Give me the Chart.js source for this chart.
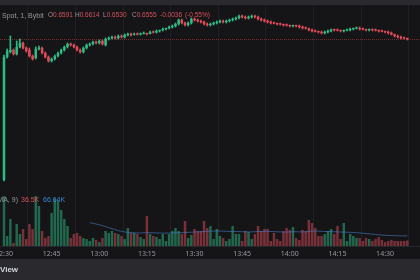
<!DOCTYPE html>
<html>
<head>
<meta charset="UTF-8">
<title>Spot 1m</title>
<script src="https://cdn.jsdelivr.net/npm/chart.js@4.4.1/dist/chart.umd.min.js"></script>
<style>
  html, body { margin: 0; padding: 0; width: 420px; height: 280px; overflow: hidden; background: #151518; font-family: 'Noto Sans', sans-serif; }
  #topbar { position: absolute; left: 0; top: 0; width: 420px; height: 5px; background: #2a2a2e; }
  #wrap { position: absolute; left: 0; top: 5px; width: 420px; height: 254px; }
  #bottombar { position: absolute; left: 0; top: 259px; width: 420px; height: 21px; background: #2a2a2e; }
  .t { position: absolute; font-size: 6.5px; line-height: 1; white-space: nowrap; font-family: 'Liberation Sans', sans-serif; }
  .g { color: #9598a1; }
  .r { color: #d9505c; }
  .b { color: #3d85d8; }
</style>
</head>
<body>
<div id="topbar"></div>
<div id="wrap"><canvas id="chart" width="420" height="254"></canvas></div>
<div id="bottombar"></div>

<!-- legend overlays -->
<div class="t g" style="left:2px;top:12px;font-size:7px">Spot, 1, Bybit</div>
<div class="t" style="left:48px;top:12px"><span class="g">O</span><span class="r">0.6591</span></div>
<div class="t" style="left:75px;top:12px"><span class="g">H</span><span class="r">0.6614</span></div>
<div class="t" style="left:103px;top:12px"><span class="g">L</span><span class="r">0.6530</span></div>
<div class="t" style="left:132px;top:12px"><span class="g">C</span><span class="r">0.6555</span></div>
<div class="t r" style="left:160px;top:12px">-0.0036</div>
<div class="t r" style="left:185px;top:12px">(-0.55%)</div>

<div class="t g" style="right:402px;top:196px;font-size:7px">Volume (MA, 9)</div>
<div class="t r" style="left:21px;top:196px;font-size:7px">36.5K</div>
<div class="t b" style="left:43px;top:196px;font-size:7px">66.64K</div>

<div class="t" style="left:0;top:266px;font-size:8px;font-weight:bold;color:#d1d4dc">View</div>

<script>
// 1 minute candles, 12:30 -> 14:37
const tickLabels = ['12:30', '12:45', '13:00', '13:15', '13:30', '13:45', '14:00', '14:15', '14:30'];

const opens = [
  0.6414, 0.6537, 0.6542, 0.6544, 0.6540, 0.6547, 0.6551, 0.6546, 0.6544, 0.6538,
  0.6536, 0.6545, 0.6546, 0.6541, 0.6537, 0.6533, 0.6535, 0.6538, 0.6541, 0.6544,
  0.6547, 0.6550, 0.6549, 0.6547, 0.6544, 0.6542, 0.6546, 0.6549, 0.6550, 0.6552,
  0.6551, 0.6553, 0.6549, 0.6555, 0.6556, 0.6557, 0.6556, 0.6558, 0.6557, 0.6559,
  0.6560, 0.6559, 0.6560, 0.65595, 0.6560, 0.6561, 0.6560, 0.6562, 0.65615, 0.6563,
  0.6564, 0.6565, 0.6566, 0.6567, 0.6568, 0.6570, 0.6574, 0.6571, 0.6569, 0.6571,
  0.6575, 0.6574, 0.6573, 0.6572, 0.6570, 0.6569, 0.6570, 0.6571, 0.6572, 0.6573,
  0.6572, 0.6573, 0.6574, 0.6575, 0.6576, 0.6578, 0.6577, 0.6576, 0.6577, 0.6578,
  0.6577, 0.6575, 0.6574, 0.6573, 0.6572, 0.6571, 0.65705, 0.6570, 0.65695, 0.6569,
  0.65685, 0.6568, 0.65685, 0.6568, 0.6567, 0.6566, 0.65655, 0.6564, 0.6563, 0.65625,
  0.6562, 0.6561, 0.6562, 0.6563, 0.65645, 0.6564, 0.65635, 0.6563, 0.65635, 0.6564,
  0.6565, 0.65655, 0.6566, 0.6565, 0.65645, 0.6564, 0.65645, 0.6564, 0.65635, 0.6563,
  0.65625, 0.6562, 0.6561, 0.65595, 0.6558, 0.6557, 0.6556, 0.65555
];
const highs = [
  0.6539, 0.6545, 0.6558, 0.6545, 0.6553, 0.6555, 0.6552, 0.6547, 0.6546, 0.6539,
  0.6547, 0.6548, 0.6547, 0.6542, 0.6538, 0.6536, 0.6539, 0.6542, 0.6545, 0.6548,
  0.6551, 0.6551, 0.6550, 0.6548, 0.6545, 0.6547, 0.6550, 0.6551, 0.6553, 0.6553,
  0.6554, 0.6554, 0.6556, 0.6557, 0.6558, 0.6558, 0.6559, 0.6559, 0.6560, 0.6561,
  0.6561, 0.6561, 0.6561, 0.6561, 0.6562, 0.6561, 0.6563, 0.6563, 0.6564, 0.6564,
  0.6566, 0.6566, 0.6568, 0.6569, 0.6571, 0.6575, 0.6575, 0.6572, 0.6572, 0.6576,
  0.6576, 0.6575, 0.6574, 0.6573, 0.6571, 0.6571, 0.6572, 0.6573, 0.6574, 0.6574,
  0.6574, 0.6575, 0.6576, 0.6577, 0.6579, 0.6579, 0.6578, 0.6578, 0.6579, 0.6579,
  0.6578, 0.6576, 0.6575, 0.6574, 0.6573, 0.6572, 0.6571, 0.6571, 0.6570, 0.6570,
  0.6569, 0.6569, 0.6569, 0.6569, 0.6568, 0.6567, 0.6566, 0.6565, 0.6564, 0.6563,
  0.6563, 0.6563, 0.6564, 0.6565, 0.6565, 0.6565, 0.6564, 0.6564, 0.6565, 0.6566,
  0.6566, 0.6567, 0.6567, 0.6566, 0.6565, 0.6565, 0.6565, 0.6565, 0.6564, 0.6564,
  0.6563, 0.6563, 0.6562, 0.6560, 0.6559, 0.6558, 0.6557, 0.6556
];
const lows = [
  0.6413, 0.6536, 0.6541, 0.6539, 0.6539, 0.6546, 0.6545, 0.6542, 0.6537, 0.6534,
  0.6535, 0.6544, 0.6540, 0.6536, 0.6532, 0.6532, 0.6534, 0.6537, 0.6540, 0.6543,
  0.6546, 0.6548, 0.6546, 0.6543, 0.6541, 0.6541, 0.6545, 0.6548, 0.6549, 0.6550,
  0.6550, 0.6549, 0.6548, 0.6554, 0.6555, 0.6555, 0.6555, 0.6556, 0.6556, 0.6558,
  0.6558, 0.6559, 0.6559, 0.6559, 0.6560, 0.6559, 0.6560, 0.6561, 0.6561, 0.6562,
  0.6563, 0.6564, 0.6565, 0.6566, 0.6567, 0.6569, 0.6570, 0.6568, 0.6568, 0.6570,
  0.6573, 0.6572, 0.6571, 0.6569, 0.6568, 0.6568, 0.6569, 0.6570, 0.6571, 0.6571,
  0.6571, 0.6572, 0.6573, 0.6574, 0.6575, 0.6576, 0.6575, 0.6575, 0.6576, 0.6576,
  0.6574, 0.6573, 0.6572, 0.6571, 0.6570, 0.6570, 0.6569, 0.6569, 0.6568, 0.6568,
  0.6567, 0.6567, 0.6567, 0.6566, 0.6565, 0.6565, 0.6563, 0.6562, 0.6562, 0.6561,
  0.6560, 0.6560, 0.6561, 0.6562, 0.6563, 0.6563, 0.6562, 0.6562, 0.6563, 0.6563,
  0.6564, 0.6565, 0.6564, 0.6564, 0.6563, 0.6563, 0.6563, 0.6563, 0.6562, 0.6562,
  0.6561, 0.6560, 0.6559, 0.6557, 0.6556, 0.6555, 0.6555, 0.6554
];
const closes = [
  0.6537, 0.6543, 0.6544, 0.6540, 0.6547, 0.6551, 0.6546, 0.6543, 0.6538, 0.6535,
  0.6545, 0.6546, 0.6541, 0.6537, 0.6533, 0.6535, 0.6538, 0.6541, 0.6544, 0.6547,
  0.6550, 0.6549, 0.6547, 0.6544, 0.6542, 0.6546, 0.6549, 0.6550, 0.6552, 0.6551,
  0.6553, 0.6550, 0.6555, 0.6556, 0.6557, 0.6556, 0.6558, 0.6557, 0.6559, 0.6560,
  0.6559, 0.6560, 0.65595, 0.6560, 0.6561, 0.6560, 0.6562, 0.65615, 0.6563, 0.6564,
  0.6565, 0.6566, 0.6567, 0.6568, 0.6570, 0.6574, 0.6571, 0.6569, 0.6571, 0.6575,
  0.6574, 0.6573, 0.6572, 0.6570, 0.6569, 0.6570, 0.6571, 0.6572, 0.6573, 0.6572,
  0.6573, 0.6574, 0.6575, 0.6576, 0.6578, 0.6577, 0.6576, 0.6577, 0.6578, 0.6577,
  0.6575, 0.6574, 0.6573, 0.6572, 0.6571, 0.65705, 0.6570, 0.65695, 0.6569, 0.65685,
  0.6568, 0.65685, 0.6568, 0.6567, 0.6566, 0.65655, 0.6564, 0.6563, 0.65625, 0.6562,
  0.6561, 0.6562, 0.6563, 0.65645, 0.6564, 0.65635, 0.6563, 0.65635, 0.6564, 0.6565,
  0.65655, 0.6566, 0.6565, 0.65645, 0.6564, 0.65645, 0.6564, 0.65635, 0.6563, 0.65625,
  0.6562, 0.6561, 0.65595, 0.6558, 0.6557, 0.6556, 0.65555, 0.6555
];
// volume in K
const volumes = [
  330, 66, 178, 20, 145, 79, 112, 46, 145, 112,
  330, 264, 99, 53, 66, 218, 310, 297, 238, 178,
  132, 53, 79, 86, 66, 53, 46, 33, 53, 40,
  26, 53, 99, 86, 99, 86, 79, 66, 46, 119,
  86, 86, 79, 59, 46, 198, 79, 66, 59, 46,
  79, 33, 79, 99, 119, 99, 79, 165, 53, 73,
  112, 99, 99, 165, 119, 132, 46, 112, 66, 53,
  33, 46, 132, 79, 79, 33, 99, 92, 46, 79,
  132, 99, 112, 112, 33, 86, 46, 33, 99, 119,
  106, 125, 53, 40, 106, 99, 172, 152, 119, 66,
  66, 79, 99, 112, 79, 132, 46, 152, 33, 79,
  66, 53, 53, 33, 53, 46, 33, 46, 59, 40,
  26, 33, 40, 33, 33, 33, 33, 36.5
];
// volume MA(9), in K
const volMA = [
  null, null, null, null, null, null, null, null, null, null,
  null, null, null, null, null, null, null, null, null, null,
  null, null, null, null, null, null, null, 154, 150, 145,
  140, 134, 128, 121, 114, 108, 102, 97, 93, 90,
  88, 87, 86, 86, 87, 88, 88, 87, 86, 86,
  85, 85, 86, 86, 87, 88, 88, 90, 90, 91,
  92, 93, 94, 95, 97, 98, 98, 99, 99, 98,
  97, 96, 96, 95, 95, 94, 94, 93, 93, 94,
  95, 96, 97, 97, 96, 95, 94, 93, 92, 92,
  93, 94, 94, 93, 93, 94, 96, 98, 99, 98,
  97, 96, 95, 95, 94, 93, 92, 92, 91, 90,
  89, 88, 86, 84, 82, 80, 78, 76, 74, 72,
  71, 70, 69, 68, 67.5, 67, 66.8, 66.64
];

const UP = '#2dbb84';
const DOWN = '#e04b57';
const UP_VOL = 'rgba(45,187,132,0.5)';
const DOWN_VOL = 'rgba(224,75,87,0.5)';
const isUp = i => closes[i] >= opens[i];

// visible ranges of the hidden axes
const xMin = -1.26, xMax = 131.0;
const priceMin = 0.6348, priceMax = 0.6589;
const volMax = 1590;

const priceLine = {
  id: 'priceLine',
  beforeDatasetsDraw(chart) {
    const { ctx, chartArea } = chart;
    const y = Math.round(chart.scales.y.getPixelForValue(closes[closes.length - 1])) + 0.5;
    ctx.save();
    ctx.strokeStyle = 'rgba(224,75,87,0.45)';
    ctx.lineWidth = 1;
    ctx.setLineDash([1, 1]);
    ctx.beginPath();
    ctx.moveTo(chartArea.left, y);
    ctx.lineTo(chartArea.right, y);
    ctx.stroke();
    ctx.restore();
  }
};

new Chart(document.getElementById('chart'), {
  type: 'bar',
  data: {
    datasets: [
      {
        label: 'Volume',
        data: volumes.map((v, i) => ({ x: i, y: v })),
        yAxisID: 'yv',
        backgroundColor: c => isUp(c.dataIndex) ? UP_VOL : DOWN_VOL,
        barPercentage: 0.78,
        categoryPercentage: 1,
        grouped: false,
        order: 3
      },
      {
        type: 'line',
        label: 'MA 9',
        data: volMA.map((v, i) => ({ x: i, y: v })),
        yAxisID: 'yv',
        borderColor: 'rgba(70,125,200,0.6)',
        borderWidth: 1,
        pointRadius: 0,
        tension: 0.3,
        order: 2
      },
      {
        label: 'Wick',
        data: highs.map((h, i) => ({ x: i, y: [lows[i], h] })),
        yAxisID: 'y',
        backgroundColor: c => isUp(c.dataIndex) ? UP : DOWN,
        barThickness: 1,
        grouped: false,
        order: 1
      },
      {
        label: 'Body',
        data: opens.map((o, i) => ({ x: i, y: [o, closes[i]] })),
        yAxisID: 'y',
        backgroundColor: c => isUp(c.dataIndex) ? UP : DOWN,
        barPercentage: 0.8,
        categoryPercentage: 1,
        minBarLength: 1,
        grouped: false,
        order: 0
      }
    ]
  },
  options: {
    responsive: false,
    animation: false,
    devicePixelRatio: 1,
    layout: { padding: 0 },
    plugins: { legend: { display: false }, tooltip: { enabled: false } },
    scales: {
      x: {
        type: 'linear',
        min: xMin,
        max: xMax,
        offset: false,
        grid: { color: '#1f2025', drawTicks: false },
        border: { color: '#26272c' },
        ticks: {
          stepSize: 15,
          includeBounds: false,
          autoSkip: false,
          maxRotation: 0,
          padding: 4,
          color: '#9598a1',
          font: { size: 7, family: "'Noto Sans', sans-serif" },
          callback: v => tickLabels[Math.round(v / 15)]
        },
        afterFit: s => { s.height = 13; s.paddingLeft = 0; s.paddingRight = 0; }
      },
      y: { display: false, min: priceMin, max: priceMax },
      yv: { display: false, min: 0, max: volMax }
    }
  },
  plugins: [priceLine]
});
</script>
</body>
</html>
